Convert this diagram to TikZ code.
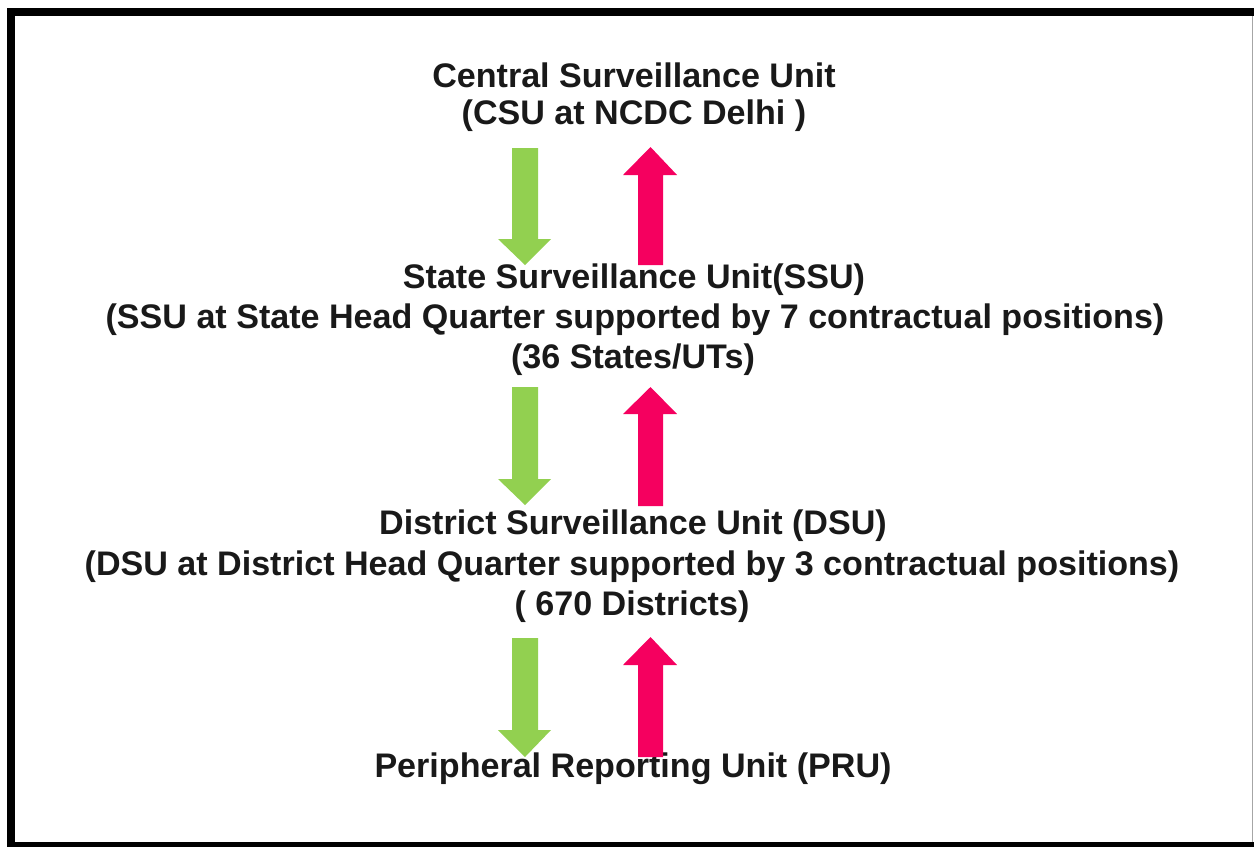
\documentclass[tikz,border=0pt]{standalone}
\usepackage{fontspec}
\setmainfont{Liberation Sans}
\definecolor{arrgreen}{RGB}{146,208,80}
\definecolor{arrred}{RGB}{245,0,95}
\definecolor{txt}{RGB}{25,25,25}
\begin{document}
\begin{tikzpicture}[x=0.02cm,y=-0.02cm,
  lbl/.style={anchor=base,inner sep=0pt,text=txt,font=\fontsize{19.4pt}{22.7pt}\selectfont\bfseries},
  frame/.style={draw=black,line width=4.54pt},
  gdown/.style={fill=arrgreen,draw=none},
  rup/.style={fill=arrred,draw=none}]
\useasboundingbox (0,0) rectangle (1254,846);
\draw[frame] (11,12) -- (1260,12);
\draw[frame] (11,8) -- (11,850);
\draw[frame] (7,846) -- (1260,846);
\draw[draw=gray!70,line width=0.8pt] (1252.5,16) -- (1252.5,842);
% text
\node[lbl] (csu1) at (634,87) {Central Surveillance Unit};
\node[lbl] (csu2) at (634,124) {(CSU at NCDC Delhi )};
\node[lbl] (ssu1) at (634,288) {State Surveillance Unit(SSU)};
\node[lbl] (ssu2) at (635,328) {(SSU at State Head Quarter supported by 7 contractual positions)};
\node[lbl] (ssu3) at (633,368) {(36 States/UTs)};
\node[lbl] (dsu1) at (633,534) {District Surveillance Unit (DSU)};
\node[lbl] (dsu2) at (632,575) {(DSU at District Head Quarter supported by 3 contractual positions)};
\node[lbl] (dsu3) at (632,615) {( 670 Districts)};
\node[lbl] (pru) at (633,777) {Peripheral Reporting Unit (PRU)};
% arrows: green down (CSU->SSU)
\fill[gdown] (512,148) -- (538,148) -- (538,239) -- (551,239) -- (525,265) -- (498,239) -- (512,239) -- cycle;
\fill[rup] (638,265) -- (663,265) -- (663,175) -- (677,175) -- (650.5,147) -- (623,175) -- (638,175) -- cycle;
% SSU <-> DSU
\fill[gdown] (512,387) -- (538,387) -- (538,479) -- (551,479) -- (525,505) -- (498,479) -- (512,479) -- cycle;
\fill[rup] (638,506) -- (663,506) -- (663,414) -- (677,414) -- (650.5,387) -- (623,414) -- (638,414) -- cycle;
% DSU <-> PRU
\fill[gdown] (512,638) -- (538,638) -- (538,730) -- (551,730) -- (525,757) -- (498,730) -- (512,730) -- cycle;
\fill[rup] (638,757) -- (663,757) -- (663,665) -- (677,665) -- (650.5,637) -- (623,665) -- (638,665) -- cycle;
\end{tikzpicture}
\end{document}
